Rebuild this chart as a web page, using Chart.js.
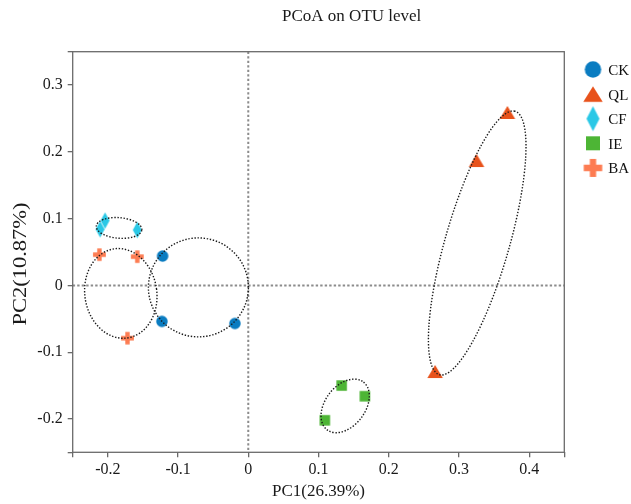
<!DOCTYPE html>
<html><head><meta charset="utf-8">
<script src="https://cdn.jsdelivr.net/npm/chart.js@4.4.1/dist/chart.umd.min.js"></script>
<style>html,body{margin:0;padding:0;background:#fff}</style>
</head><body>
<canvas id="c" width="631" height="504"></canvas>
<script>
// ---- data ----
const groups = ['CK','QL','CF','IE','BA'];
const colors = ['#0a7cc1','#e8521b','#2ac8e6','#4db535','#fd7c52'];
const shapes = ['circle','triangle','diamond','square','plus'];
const ckX = [-0.122, -0.123, -0.019];
const ckY = [0.044, -0.054, -0.057];
const qlX = [0.369, 0.325, 0.266];
const qlY = [0.259, 0.187, -0.129];
const cfX = [-0.211, -0.204, -0.158];
const cfY = [0.084, 0.097, 0.083];
const ieX = [0.133, 0.166, 0.109];
const ieY = [-0.150, -0.166, -0.202];
const baX = [-0.212, -0.158, -0.172];
const baY = [0.046, 0.043, -0.079];
const seriesX = [ckX, qlX, cfX, ieX, baX];
const seriesY = [ckY, qlY, cfY, ieY, baY];
// confidence ellipses (data units, rotation in degrees)
const ellCX = [-0.071, 0.326, -0.184, 0.138, -0.1815];
const ellCY = [-0.003, 0.0635, 0.086, -0.1805, -0.012];
const ellA  = [0.0712, 0.2045, 0.0325, 0.0442, 0.0513];
const ellB  = [0.0741, 0.0458, 0.0154, 0.0290, 0.0674];
const ellRot= [0, 74.8, -5, 56.3, 7];
const xTicks = [-0.25,-0.2,-0.1,0,0.1,0.2,0.3,0.4,0.45];
const xTickLabels = ['','-0.2','-0.1','0','0.1','0.2','0.3','0.4',''];
const yTicks = [-0.25,-0.2,-0.1,0,0.1,0.2,0.3,0.35];
const yTickLabels = ['','-0.2','-0.1','0','0.1','0.2','0.3',''];
const titleText = 'PCoA on OTU level';
const xTitle = 'PC1(26.39%)';
const yTitle = 'PC2(10.87%)';

const SERIF = "'Liberation Serif','Times New Roman',serif";

// ---- marker images ----
function makeMarker(kind, color, big){
  const dims = big ? {circle:[16.5,16.5], triangle:[19.5,15.5], diamond:[13,25], square:[14,14], plus:[18.5,18]}
                   : {circle:[11.5,11.5], triangle:[15.5,13], diamond:[9,16.5], square:[10.5,10.5], plus:[12.8,12.5]};
  const [w,h] = dims[kind];
  const c = document.createElement('canvas');
  c.width = Math.ceil(w)+2; c.height = Math.ceil(h)+2;
  const g = c.getContext('2d');
  const cx = c.width/2, cy = c.height/2;
  g.fillStyle = color;
  g.beginPath();
  if (kind==='circle'){ g.arc(cx,cy,w/2,0,Math.PI*2); }
  else if (kind==='triangle'){ g.moveTo(cx,cy-h/2); g.lineTo(cx+w/2,cy+h/2); g.lineTo(cx-w/2,cy+h/2); g.closePath(); }
  else if (kind==='diamond'){ g.moveTo(cx,cy-h/2); g.lineTo(cx+w/2,cy); g.lineTo(cx,cy+h/2); g.lineTo(cx-w/2,cy); g.closePath(); }
  else if (kind==='square'){ g.rect(cx-w/2,cy-h/2,w,h); }
  else if (kind==='plus'){ const t = big?6.3:4.4; g.rect(cx-w/2,cy-t/2,w,t); g.rect(cx-t/2,cy-h/2,t,h); }
  g.fill();
  return c;
}
const plotMarkers = groups.map((_,i)=>makeMarker(shapes[i], colors[i], false));
const legendMarkers = groups.map((_,i)=>makeMarker(shapes[i], colors[i], true));

// ---- plugins ----
const refLines = {
  id:'refLines',
  beforeDatasetsDraw(chart){
    const {ctx, chartArea:a, scales:{x,y}} = chart;
    ctx.save();
    ctx.strokeStyle = '#8c8c8c'; ctx.lineWidth = 2; ctx.setLineDash([2.4,2.1]);
    const x0 = x.getPixelForValue(0), y0 = y.getPixelForValue(0);
    ctx.beginPath(); ctx.moveTo(x0,a.top); ctx.lineTo(x0,a.bottom); ctx.stroke();
    ctx.beginPath(); ctx.moveTo(a.left,y0); ctx.lineTo(a.right,y0); ctx.stroke();
    ctx.restore();
  }
};
const ellipses = {
  id:'ellipses',
  afterDatasetsDraw(chart){
    const {ctx, scales:{x,y}} = chart;
    const sx = x.getPixelForValue(1)-x.getPixelForValue(0);
    const sy = y.getPixelForValue(0)-y.getPixelForValue(1);
    ctx.save();
    ctx.strokeStyle = '#1a1a1a'; ctx.lineWidth = 1.4; ctx.setLineDash([1.4,1.7]);
    for (let i=0;i<ellCX.length;i++){
      ctx.beginPath();
      ctx.save();
      ctx.translate(x.getPixelForValue(ellCX[i]), y.getPixelForValue(ellCY[i]));
      ctx.scale(sx,-sy);
      ctx.rotate(ellRot[i]*Math.PI/180);
      ctx.ellipse(0,0,ellA[i],ellB[i],0,0,Math.PI*2);
      ctx.restore();
      ctx.stroke();
    }
    ctx.restore();
  }
};
const decor = {
  id:'decor',
  afterDraw(chart){
    const {ctx, chartArea:a} = chart;
    ctx.save();
    // frame
    ctx.strokeStyle = '#6a6a6a'; ctx.lineWidth = 1.3;
    ctx.strokeRect(a.left, a.top, a.right-a.left, a.bottom-a.top);
    // title
    ctx.fillStyle = '#1a1a1a';
    ctx.font = '17px ' + SERIF;
    ctx.textAlign = 'center'; ctx.textBaseline = 'alphabetic';
    ctx.fillText(titleText, 351.7, 21);
    // y title (stretched along reading direction)
    ctx.save();
    ctx.translate(21.5, 264);
    ctx.rotate(-Math.PI/2);
    ctx.scale(1.25,1);
    ctx.font = '18px ' + SERIF;
    ctx.textAlign = 'center'; ctx.textBaseline = 'middle';
    ctx.fillText(yTitle, 0, 0);
    ctx.restore();
    // legend
    ctx.font = '15px ' + SERIF;
    ctx.textAlign = 'left'; ctx.textBaseline = 'alphabetic';
    for (let i=0;i<groups.length;i++){
      const cy = 69.5 + i*24.6;
      const m = legendMarkers[i];
      ctx.drawImage(m, 593 - m.width/2, cy - m.height/2);
      ctx.fillStyle = '#111';
      ctx.fillText(groups[i], 608.3, cy + 5.5);
    }
    ctx.restore();
  }
};

// ---- chart ----
const datasets = groups.map((g,i)=>({
  label: g,
  data: seriesX[i].map((v,j)=>({x:v, y:seriesY[i][j]})),
  pointStyle: plotMarkers[i],
  pointRadius: 6,
  backgroundColor: colors[i],
  borderColor: colors[i]
}));

const tickFont = {family: SERIF, size: 16};
new Chart(document.getElementById('c'), {
  type:'scatter',
  data:{datasets},
  options:{
    responsive:false, animation:false, events:[],
    layout:{padding:{left:0, right:66.7, top:51.7, bottom:0}},
    plugins:{legend:{display:false}, title:{display:false}, tooltip:{enabled:false}},
    scales:{
      x:{
        type:'linear', position:'bottom', min:-0.25, max:0.45,
        afterBuildTicks(s){ s.ticks = xTicks.map(v=>({value:v})); },
        afterFit(s){ s.height = 51.7; },
        ticks:{ autoSkip:false, maxRotation:0, padding:3, color:'#1a1a1a', font:tickFont,
          callback(v){ const k = xTicks.findIndex(t=>Math.abs(t-v)<1e-9); return k>=0 ? xTickLabels[k] : ''; } },
        grid:{ display:true, drawOnChartArea:false, drawTicks:true, tickLength:5, color:'#6a6a6a', lineWidth:1.3 },
        border:{ display:false },
        title:{ display:true, text:xTitle, color:'#1a1a1a', font:{family:SERIF, size:17}, padding:{top:0,bottom:2} }
      },
      y:{
        type:'linear', position:'left', min:-0.25, max:0.35,
        afterBuildTicks(s){ s.ticks = yTicks.map(v=>({value:v})); },
        afterFit(s){ s.width = 72.7; },
        ticks:{ autoSkip:false, padding:5, color:'#1a1a1a', font:tickFont,
          callback(v){ const k = yTicks.findIndex(t=>Math.abs(t-v)<1e-9); return k>=0 ? yTickLabels[k] : ''; } },
        grid:{ display:true, drawOnChartArea:false, drawTicks:true, tickLength:5, color:'#6a6a6a', lineWidth:1.3 },
        border:{ display:false },
        title:{ display:false }
      }
    }
  },
  plugins:[refLines, ellipses, decor]
});
</script>
</body></html>
